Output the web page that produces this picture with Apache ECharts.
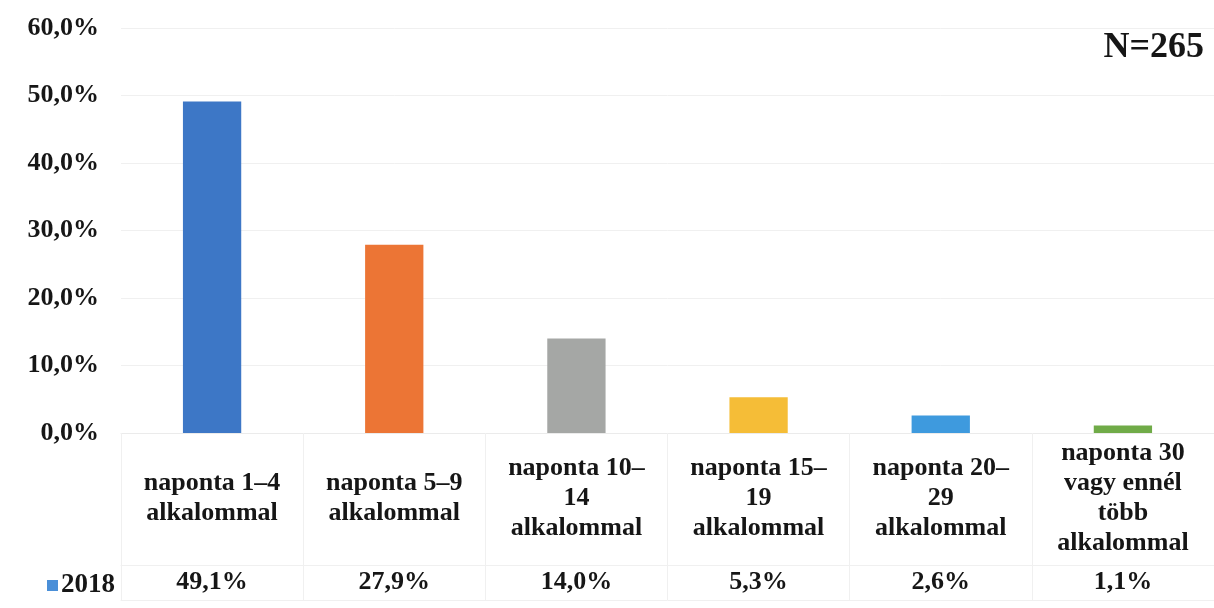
<!DOCTYPE html>
<html>
<head>
<meta charset="utf-8">
<script src="https://cdn.jsdelivr.net/npm/echarts@6/dist/echarts.min.js"></script>
<style>
  html, body { margin: 0; padding: 0; background: #fff; }
  #chart { width: 1214px; height: 608px; }
</style>
</head>
<body>
<div id="chart"></div>
<script>
// Daily frequency categories and their shares (2018, N=265)
const categories = [
  'naponta 1–4\nalkalommal',
  'naponta 5–9\nalkalommal',
  'naponta 10–\n14\nalkalommal',
  'naponta 15–\n19\nalkalommal',
  'naponta 20–\n29\nalkalommal',
  'naponta 30\nvagy ennél\ntöbb\nalkalommal'
];
const seriesName = '2018';
const values = [49.1, 27.9, 14.0, 5.3, 2.6, 1.1];
const barColors = ['#3d77c6', '#ec7535', '#a5a7a5', '#f5bd37', '#3e9ade', '#70ab48'];
const yTicks = { min: 0, max: 60, interval: 10 };
const sampleNote = 'N=265';

const fmt = v => v.toFixed(1).replace('.', ',') + '%';
const serif = '"Liberation Serif", "DejaVu Serif", serif';
const ink = '#161616';
const rule = '#ebebeb';

const chart = echarts.init(document.getElementById('chart'), null, { renderer: 'canvas' });

chart.setOption({
  animation: false,
  backgroundColor: '#ffffff',
  grid: { left: 121, right: 0, top: 28, bottom: 175, containLabel: false },
  legend: {
    data: [seriesName],
    left: 42,
    top: 567,
    icon: 'rect',
    itemWidth: 11,
    itemHeight: 11,
    itemGap: 4,
    itemStyle: { color: '#4a8fd8' },
    textStyle: { fontFamily: serif, fontWeight: 'bold', fontSize: 27, color: ink, padding: [0, 0, 0, -2] }
  },
  graphic: [{
    type: 'text',
    right: 10,
    top: 30,
    style: { text: sampleNote, fontFamily: serif, fontWeight: 'bold', fontSize: 36, fill: ink }
  }],
  xAxis: [
    {
      // category row of the data table
      type: 'category',
      data: categories,
      position: 'bottom',
      axisLine: { show: true, lineStyle: { color: rule, width: 1 } },
      axisTick: { show: true, length: 167, lineStyle: { color: '#f0f0f0', width: 1 } },
      axisLabel: {
        margin: 65,
        verticalAlign: 'middle',
        fontFamily: serif, fontWeight: 'bold', fontSize: 26, lineHeight: 30, color: ink,
        interval: 0
      },
      splitLine: { show: false }
    },
    {
      // value row of the data table
      type: 'category',
      data: values.map(fmt),
      position: 'bottom',
      offset: 132,
      axisLine: { show: true, lineStyle: { color: '#f0f0f0', width: 1 } },
      axisTick: { show: false },
      axisLabel: {
        margin: 17,
        verticalAlign: 'middle',
        fontFamily: serif, fontWeight: 'bold', fontSize: 26, color: ink,
        interval: 0
      }
    },
    {
      // closing rule under the table
      type: 'category',
      data: categories,
      position: 'bottom',
      offset: 167,
      axisLine: { show: true, lineStyle: { color: '#f0f0f0', width: 1 } },
      axisTick: { show: false },
      axisLabel: { show: false }
    }
  ],
  yAxis: {
    type: 'value',
    min: yTicks.min,
    max: yTicks.max,
    interval: yTicks.interval,
    axisLine: { show: false },
    axisTick: { show: false },
    splitLine: { lineStyle: { color: '#f0f0f0', width: 1 } },
    axisLabel: {
      formatter: fmt,
      margin: 22,
      fontFamily: serif, fontWeight: 'bold', fontSize: 26, color: ink
    }
  },
  series: [{
    name: seriesName,
    type: 'bar',
    xAxisIndex: 0,
    barWidth: '32%',
    itemStyle: { color: '#4a8fd8' },
    data: values.map((v, i) => ({ value: v, itemStyle: { color: barColors[i] } }))
  }]
});
</script>
</body>
</html>
